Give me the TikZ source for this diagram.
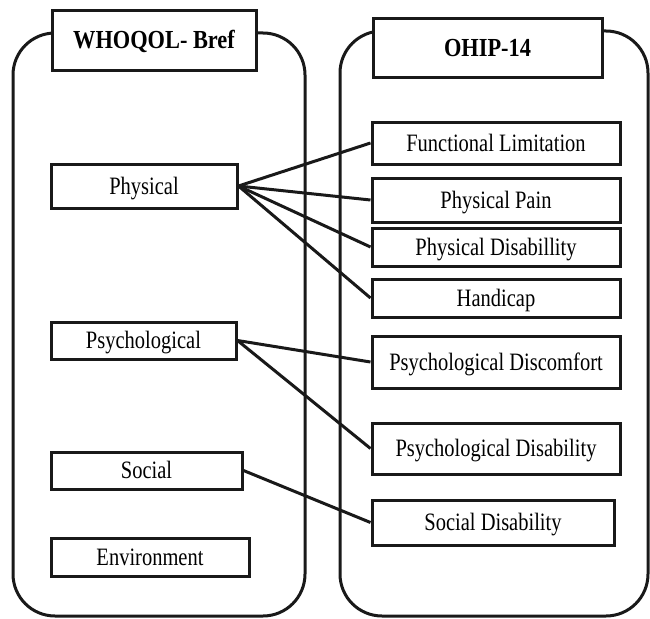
\documentclass[tikz,border=0pt]{standalone}
\usepackage{fontspec}
\setmainfont{Liberation Serif}
\newcommand{\rtxt}[1]{\scalebox{0.82}[1]{\fontsize{25}{30}\selectfont #1}}
\newcommand{\btxt}[1]{\scalebox{0.86}[1]{\fontsize{26}{31}\selectfont\bfseries #1}}
\tikzset{
  cbox/.style={draw=black!90, line width=3pt, fill=white, inner sep=0pt,
    text height=20pt, text depth=3.5pt},
  container/.style={draw=black!90, line width=3pt, rounded corners=42pt},
  link/.style={draw=black!90, line width=3pt}
}
\begin{document}
\begin{tikzpicture}[x=1pt,y=-1pt]
\useasboundingbox (0,0) rectangle (650,618);
% containers
\draw[container] (13,33) rectangle (305,616);
\draw[container] (340,31) rectangle (648,616);
% titles
\node[cbox, minimum width=204pt, minimum height=59pt] (whoqol) at (154,40.5) {\btxt{WHOQOL- Bref}};
\node[cbox, minimum width=229pt, minimum height=58pt] (ohip) at (487.5,48) {\btxt{OHIP-14}};
% left boxes
\node[cbox, minimum width=186pt, minimum height=44pt] (phys) at (144,186) {\rtxt{Physical}};
\node[cbox, minimum width=185pt, minimum height=37pt] (psych) at (143.5,340.5) {\rtxt{Psychological}};
\node[cbox, minimum width=191pt, minimum height=37pt] (social) at (146.5,470.5) {\rtxt{Social}};
\node[cbox, minimum width=198pt, minimum height=38pt] (env) at (150,557) {\rtxt{Environment}};
% right boxes
\node[cbox, minimum width=248pt, minimum height=42pt] (func) at (496,143) {\rtxt{Functional Limitation}};
\node[cbox, minimum width=248pt, minimum height=44pt] (pain) at (496,200) {\rtxt{Physical Pain}};
\node[cbox, minimum width=248pt, minimum height=38pt] (pdis) at (496,247) {\rtxt{Physical Disabillity}};
\node[cbox, minimum width=248pt, minimum height=38pt] (hand) at (496,298) {\rtxt{Handicap}};
\node[cbox, minimum width=248pt, minimum height=52pt] (discomf) at (496,362) {\rtxt{Psychological Discomfort}};
\node[cbox, minimum width=248pt, minimum height=51pt] (psydis) at (496,448.5) {\rtxt{Psychological Disability}};
\node[cbox, minimum width=242pt, minimum height=45pt] (socdis) at (493,522.5) {\rtxt{Social Disability}};
% links
\draw[link] (phys.east) -- (func.west);
\draw[link] (phys.east) -- (pain.west);
\draw[link] (phys.east) -- (pdis.west);
\draw[link] (phys.east) -- (hand.west);
\draw[link] (psych.east) -- (discomf.west);
\draw[link] (psych.east) -- (psydis.west);
\draw[link] (social.east) -- (socdis.west);
\end{tikzpicture}
\end{document}
